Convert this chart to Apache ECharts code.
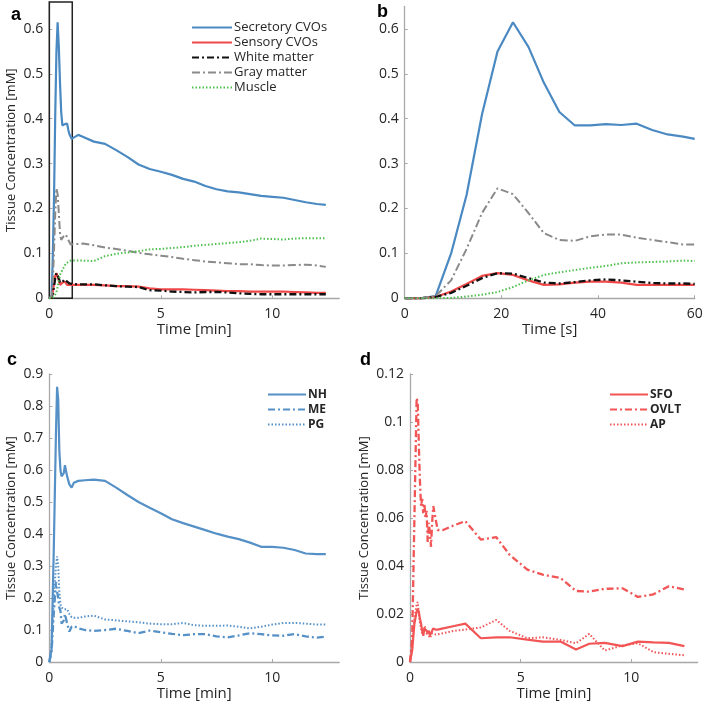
<!DOCTYPE html>
<html>
<head>
<meta charset="utf-8">
<script src="https://cdn.jsdelivr.net/npm/echarts@6/dist/echarts.min.js"></script>
<style>
html,body{margin:0;padding:0;background:#fff;}
#chart{width:708px;height:702px;}
</style>
</head>
<body>
<div id="chart"></div>
<script>
// ---------- Panel b (first 60 s), also the start of panel a ----------
var timeSecB = [0, 3.2, 6.4, 9.6, 12.8, 16, 19.2, 22.4, 25.6, 28.8, 32, 35.2, 38.4, 41.6, 44.8, 48, 51.2, 54.4, 57.6, 60];
var secretoryEarly = [0, 0, 0.005, 0.10, 0.23, 0.41, 0.55, 0.615, 0.56, 0.48, 0.415, 0.385, 0.385, 0.388, 0.386, 0.389, 0.375, 0.365, 0.36, 0.355];
var sensoryEarly   = [0, 0, 0.003, 0.015, 0.032, 0.05, 0.056, 0.052, 0.04, 0.03, 0.031, 0.035, 0.037, 0.037, 0.035, 0.03, 0.03, 0.03, 0.03, 0.03];
var whiteEarly     = [0, 0, 0.003, 0.012, 0.028, 0.045, 0.056, 0.055, 0.045, 0.035, 0.033, 0.036, 0.04, 0.042, 0.04, 0.037, 0.034, 0.033, 0.033, 0.032];
var grayEarly      = [0, 0, 0.005, 0.04, 0.11, 0.19, 0.245, 0.232, 0.19, 0.145, 0.13, 0.128, 0.138, 0.142, 0.142, 0.135, 0.13, 0.125, 0.12, 0.12];
var muscleEarly    = [0, 0, 0, 0.001, 0.004, 0.008, 0.014, 0.025, 0.04, 0.052, 0.058, 0.063, 0.068, 0.072, 0.078, 0.08, 0.081, 0.082, 0.084, 0.083];

// ---------- Panel a, after the first minute ----------
var timeLateMin   = [1.3, 1.5, 2, 2.5, 3, 3.5, 4, 4.5, 5, 5.5, 6, 6.5, 7, 7.5, 8, 8.5, 9, 9.5, 10, 10.5, 11, 11.5, 12, 12.4];
var secretoryLate = [0.364, 0.36, 0.349, 0.344, 0.33, 0.315, 0.298, 0.288, 0.282, 0.275, 0.266, 0.26, 0.25, 0.243, 0.238, 0.236, 0.232, 0.228, 0.226, 0.224, 0.219, 0.214, 0.21, 0.208];
var sensoryLate   = [0.03, 0.03, 0.03, 0.029, 0.027, 0.027, 0.026, 0.022, 0.02, 0.02, 0.02, 0.019, 0.018, 0.017, 0.016, 0.016, 0.015, 0.015, 0.015, 0.015, 0.014, 0.013, 0.012, 0.012];
var whiteLate     = [0.031, 0.031, 0.031, 0.029, 0.027, 0.026, 0.025, 0.018, 0.017, 0.015, 0.014, 0.013, 0.014, 0.014, 0.013, 0.011, 0.01, 0.009, 0.009, 0.009, 0.009, 0.009, 0.009, 0.009];
var grayLate      = [0.121, 0.122, 0.118, 0.113, 0.11, 0.106, 0.101, 0.098, 0.095, 0.092, 0.088, 0.085, 0.082, 0.08, 0.078, 0.076, 0.076, 0.074, 0.073, 0.073, 0.074, 0.075, 0.073, 0.07];
var muscleLate    = [0.084, 0.084, 0.083, 0.094, 0.099, 0.102, 0.105, 0.109, 0.11, 0.112, 0.114, 0.117, 0.119, 0.121, 0.123, 0.125, 0.128, 0.133, 0.132, 0.131, 0.133, 0.134, 0.134, 0.134];

// ---------- Panel c ----------
var timeC = [0, 0.1, 0.2, 0.3, 0.35, 0.4, 0.45, 0.5, 0.55, 0.6, 0.65, 0.7, 0.8, 0.9, 1.0, 1.1, 1.3, 1.6, 2, 2.5, 3, 3.5, 4, 4.5, 5, 5.5, 6, 6.5, 7, 7.5, 8, 8.5, 9, 9.5, 10, 10.5, 11, 11.5, 12, 12.4];
var nhC = [0, 0.04, 0.35, 0.72, 0.86, 0.82, 0.66, 0.6, 0.58, 0.58, 0.59, 0.615, 0.58, 0.555, 0.545, 0.56, 0.566, 0.568, 0.57, 0.566, 0.545, 0.522, 0.5, 0.482, 0.465, 0.446, 0.434, 0.423, 0.412, 0.401, 0.392, 0.384, 0.373, 0.36, 0.36, 0.357, 0.35, 0.339, 0.337, 0.337];
var meC = [0, 0.03, 0.15, 0.25, 0.22, 0.2, 0.17, 0.16, 0.12, 0.12, 0.13, 0.15, 0.12, 0.095, 0.11, 0.113, 0.105, 0.1, 0.097, 0.1, 0.104, 0.097, 0.09, 0.098, 0.093, 0.088, 0.084, 0.087, 0.087, 0.08, 0.077, 0.083, 0.09, 0.087, 0.083, 0.082, 0.087, 0.08, 0.076, 0.079];
var pgC = [0, 0.05, 0.2, 0.3, 0.33, 0.3, 0.22, 0.18, 0.17, 0.165, 0.165, 0.17, 0.165, 0.15, 0.14, 0.138, 0.138, 0.142, 0.145, 0.133, 0.13, 0.127, 0.124, 0.12, 0.118, 0.118, 0.122, 0.115, 0.113, 0.113, 0.114, 0.11, 0.105, 0.11, 0.117, 0.122, 0.122, 0.12, 0.117, 0.117];

// ---------- Panel d ----------
var timeD = [0, 0.1, 0.2, 0.3, 0.35, 0.4, 0.45, 0.5, 0.55, 0.6, 0.65, 0.7, 0.75, 0.8, 0.85, 0.9, 0.95, 1.0, 1.05, 1.15, 1.25, 1.5, 2, 2.5, 3.2, 3.9, 4.5, 5.3, 6, 6.8, 7.5, 8.1, 8.8, 9.6, 10.3, 11, 11.7, 12.4];
var sfoD  = [0, 0.005, 0.016, 0.021, 0.022, 0.021, 0.018, 0.016, 0.013, 0.011, 0.014, 0.014, 0.013, 0.012, 0.013, 0.011, 0.012, 0.013, 0.014, 0.0135, 0.0135, 0.014, 0.015, 0.016, 0.0099, 0.0103, 0.0103, 0.0093, 0.0085, 0.0085, 0.0052, 0.0076, 0.008, 0.0066, 0.0085, 0.0082, 0.008, 0.0066];
var ovltD = [0, 0.01, 0.06, 0.11, 0.108, 0.09, 0.075, 0.065, 0.068, 0.062, 0.066, 0.06, 0.063, 0.05, 0.058, 0.054, 0.048, 0.058, 0.065, 0.06, 0.055, 0.055, 0.057, 0.0587, 0.051, 0.052, 0.0447, 0.0385, 0.0364, 0.035, 0.0296, 0.0293, 0.0305, 0.0307, 0.0271, 0.0282, 0.0316, 0.0302];
var apD   = [0, 0.006, 0.018, 0.024, 0.025, 0.02, 0.016, 0.014, 0.012, 0.011, 0.015, 0.014, 0.012, 0.012, 0.011, 0.01, 0.011, 0.012, 0.012, 0.0115, 0.0115, 0.012, 0.013, 0.0135, 0.0144, 0.0175, 0.013, 0.0099, 0.0103, 0.0092, 0.0078, 0.0117, 0.0048, 0.0069, 0.0078, 0.0041, 0.0034, 0.0028];

// ---------- Labels ----------
var namesAB = ['Secretory CVOs', 'Sensory CVOs', 'White matter', 'Gray matter', 'Muscle'];
var namesC = ['NH', 'ME', 'PG'];
var namesD = ['SFO', 'OVLT', 'AP'];
var yTitle = 'Tissue Concentration [mM]';
var xTitleMin = 'Time [min]';
var xTitleSec = 'Time [s]';
var panelLetters = ['a', 'b', 'c', 'd'];

// ---------- helpers ----------
function zip(xs, ys) { return xs.map(function (x, i) { return [x, ys[i]]; }); }
var timeA = timeSecB.map(function (s) { return s / 60; }).concat(timeLateMin);

var BLUE = '#4a89c1', RED = '#f04848', BLACK = '#111111', GRAY = '#8a8a8a', GREEN = '#4fbf4f';
var BLUE2 = '#5590c6', RED2 = '#f25555';
var FONT = 'Open Sans';
var AXC = '#a8a8a8', TXT = '#262626';

function styleFor(kind, color) {
  var m = {
    solid: { type: 'solid', width: 2.2 },
    dashdot: { type: [7, 3, 2, 3], width: 2.3 },
    graydash: { type: [8, 3, 2, 3], width: 2 },
    dot: { type: [1.5, 2], width: 2 }
  }[kind];
  return { color: color, width: m.width, type: m.type };
}

function line(name, data, xi, kind, color, extra) {
  var s = {
    name: name, type: 'line', xAxisIndex: xi, yAxisIndex: xi,
    data: data, symbol: 'none', showSymbol: false, smooth: false,
    lineStyle: styleFor(kind, color), itemStyle: { color: color },
    animation: false, silent: true, z: 3
  };
  if (extra) { for (var k in extra) s[k] = extra[k]; }
  return s;
}

function xAxisCfg(gi, max, interval, name, showMax) {
  return {
    type: 'value', gridIndex: gi, min: 0, max: max, interval: interval,
    name: name, nameLocation: 'middle', nameGap: 24,
    nameTextStyle: { fontFamily: FONT, fontSize: 15, color: TXT },
    axisLine: { show: true, lineStyle: { color: AXC, width: 1.3 } },
    axisTick: { show: true, inside: true, length: 3, lineStyle: { color: AXC } },
    axisLabel: { fontFamily: FONT, fontSize: 14, color: TXT, margin: 9, showMaxLabel: showMax },
    splitLine: { show: false }
  };
}
function yAxisCfg(gi, max, interval, name, gap, decimals, showMax) {
  return {
    type: 'value', gridIndex: gi, min: 0, max: max, interval: interval,
    name: name, nameLocation: 'middle', nameGap: gap, nameRotate: 90,
    nameTextStyle: { fontFamily: FONT, fontSize: 13, color: TXT },
    axisLine: { show: true, lineStyle: { color: AXC, width: 1.3 } },
    axisTick: { show: true, inside: true, length: 3, lineStyle: { color: AXC } },
    axisLabel: {
      fontFamily: FONT, fontSize: 14, color: TXT, margin: 6, showMaxLabel: showMax,
      formatter: function (v) { return v === 0 ? '0' : v.toFixed(decimals).replace(/0+$/, ''); }
    },
    splitLine: { show: false }
  };
}
function legendCfg(names, left, top, width, fontSize, weight) {
  return {
    data: names, orient: 'vertical', left: left, top: top, padding: 0,
    itemWidth: width, itemHeight: 10, itemGap: 2,
    selectedMode: false,
    itemStyle: { opacity: 0 },
    lineStyle: { opacity: 1 },
    textStyle: { fontFamily: FONT, fontSize: fontSize, color: TXT, fontWeight: weight, padding: [0, 0, 0, -3], lineHeight: 13 }
  };
}

var chart = echarts.init(document.getElementById('chart'), null, { renderer: 'canvas' });

var letterStyle = { fontFamily: 'Liberation Sans', fontSize: 18, fontWeight: 'bold', color: '#000' };

var option = {
  backgroundColor: '#ffffff',
  animation: false,
  grid: [
    { left: 49.3, top: 2.0, width: 289.9, height: 296.3 },
    { left: 404.7, top: 6.5, width: 290, height: 291.8 },
    { left: 49.3, top: 374, width: 289.9, height: 289.3 },
    { left: 410, top: 374, width: 287.7, height: 291 }
  ],
  xAxis: [
    xAxisCfg(0, 13, 5, xTitleMin, false),
    xAxisCfg(1, 60, 20, xTitleSec, true),
    xAxisCfg(2, 13, 5, xTitleMin, false),
    xAxisCfg(3, 13, 5, xTitleMin, false)
  ],
  yAxis: [
    yAxisCfg(0, 0.66, 0.1, yTitle, 32, 1, false),
    yAxisCfg(1, 0.65, 0.1, '', 30, 1, false),
    yAxisCfg(2, 0.9, 0.1, yTitle, 32, 1, true),
    yAxisCfg(3, 0.12, 0.02, yTitle, 39, 2, true)
  ],
  legend: [
    legendCfg(namesAB, 191, 21, 40, 13, 'normal'),
    legendCfg(namesC, 267, 388, 38, 12, 'bold'),
    legendCfg(namesD, 609, 388, 38, 12, 'bold')
  ],
  title: [
    { text: panelLetters[0], left: 6, top: 1, textStyle: letterStyle },
    { text: panelLetters[1], left: 372, top: -2, textStyle: letterStyle },
    { text: panelLetters[2], left: 2, top: 346, textStyle: letterStyle },
    { text: panelLetters[3], left: 355, top: 346, textStyle: letterStyle }
  ],
  series: [
    // panel a
    line(namesAB[0], zip(timeA, secretoryEarly.concat(secretoryLate)), 0, 'solid', BLUE, {
      markArea: {
        silent: true,
        itemStyle: { color: 'rgba(0,0,0,0)', borderColor: '#222', borderWidth: 1.5 },
        data: [[{ coord: [0, 0] }, { coord: [1.03, 0.66] }]]
      }
    }),
    line(namesAB[1], zip(timeA, sensoryEarly.concat(sensoryLate)), 0, 'solid', RED),
    line(namesAB[2], zip(timeA, whiteEarly.concat(whiteLate)), 0, 'dashdot', BLACK),
    line(namesAB[3], zip(timeA, grayEarly.concat(grayLate)), 0, 'graydash', GRAY),
    line(namesAB[4], zip(timeA, muscleEarly.concat(muscleLate)), 0, 'dot', GREEN),
    // panel b
    line(namesAB[0], zip(timeSecB, secretoryEarly), 1, 'solid', BLUE),
    line(namesAB[1], zip(timeSecB, sensoryEarly), 1, 'solid', RED),
    line(namesAB[2], zip(timeSecB, whiteEarly), 1, 'dashdot', BLACK),
    line(namesAB[3], zip(timeSecB, grayEarly), 1, 'graydash', GRAY),
    line(namesAB[4], zip(timeSecB, muscleEarly), 1, 'dot', GREEN),
    // panel c
    line(namesC[0], zip(timeC, nhC), 2, 'solid', BLUE2),
    line(namesC[1], zip(timeC, meC), 2, 'dashdot', BLUE2),
    line(namesC[2], zip(timeC, pgC), 2, 'dot', BLUE2),
    // panel d
    line(namesD[0], zip(timeD, sfoD), 3, 'solid', RED2),
    line(namesD[1], zip(timeD, ovltD), 3, 'dashdot', RED2),
    line(namesD[2], zip(timeD, apD), 3, 'dot', RED2)
  ]
};
chart.setOption(option);
</script>
</body>
</html>
